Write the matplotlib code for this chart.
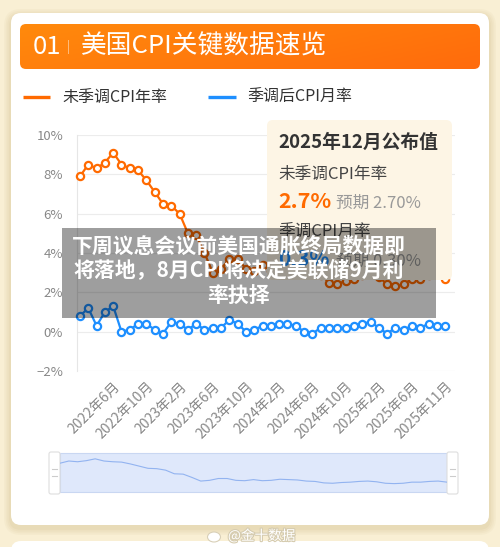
import matplotlib
matplotlib.use('Agg')
import matplotlib.pyplot as plt
from matplotlib.patches import FancyBboxPatch, Rectangle, Ellipse
import matplotlib.patheffects as pe
import numpy as np

plt.rcParams['font.family'] = ['Noto Sans CJK SC', 'DejaVu Sans']
plt.rcParams['axes.unicode_minus'] = True

# ---------------- data ----------------
months = ['2022年2月', '2022年3月', '2022年4月', '2022年5月', '2022年6月', '2022年7月',
          '2022年8月', '2022年9月', '2022年10月', '2022年11月', '2022年12月',
          '2023年1月', '2023年2月', '2023年3月', '2023年4月', '2023年5月', '2023年6月',
          '2023年7月', '2023年8月', '2023年9月', '2023年10月', '2023年11月', '2023年12月',
          '2024年1月', '2024年2月', '2024年3月', '2024年4月', '2024年5月', '2024年6月',
          '2024年7月', '2024年8月', '2024年9月', '2024年10月', '2024年11月', '2024年12月',
          '2025年1月', '2025年2月', '2025年3月', '2025年4月', '2025年5月', '2025年6月',
          '2025年7月', '2025年8月', '2025年9月', '2025年11月']
cpi_yoy_nsa = [7.9, 8.5, 8.3, 8.6, 9.1, 8.5, 8.3, 8.2, 7.7, 7.1, 6.5,
               6.4, 6.0, 5.0, 4.9, 4.0, 3.0, 3.2, 3.7, 3.7, 3.2, 3.1, 3.4,
               3.1, 3.2, 3.5, 3.4, 3.3, 3.0, 2.9, 2.5, 2.4, 2.6, 2.7, 2.9,
               3.0, 2.8, 2.4, 2.3, 2.4, 2.7, 2.7, 2.9, 3.0, 2.7]
cpi_mom_sa = [0.8, 1.2, 0.3, 1.0, 1.3, 0.0, 0.1, 0.4, 0.4, 0.1, -0.1,
              0.5, 0.4, 0.1, 0.4, 0.1, 0.2, 0.2, 0.6, 0.4, 0.0, 0.1, 0.3,
              0.3, 0.4, 0.4, 0.3, 0.0, -0.1, 0.2, 0.2, 0.2, 0.2, 0.3, 0.4,
              0.5, 0.2, -0.1, 0.2, 0.1, 0.3, 0.2, 0.4, 0.3, 0.3]
tick_labels = ['2022年6月', '2022年10月', '2023年2月', '2023年6月', '2023年10月',
               '2024年2月', '2024年6月', '2024年10月', '2025年2月', '2025年6月', '2025年11月']
y_ticks = [-2, 0, 2, 4, 6, 8, 10]
y_tick_labels = ['−2%', '0%', '2%', '4%', '6%', '8%', '10%']
series_names = ['未季调CPI年率', '季调后CPI月率']
title_text = '美国CPI关键数据速览'
overlay_text = '下周议息会议前美国通胀终局数据即\n将落地，8月CPI将决定美联储9月利\n率抉择'

ORANGE = '#ff6a00'
BLUE = '#1e8fff'

W, H = 500, 547
fig = plt.figure(figsize=(W / 100, H / 100), dpi=100)
fig.patch.set_facecolor('#f9efd4')

# background axes in pixel coordinates
bg = fig.add_axes([0, 0, 1, 1], zorder=0)
bg.set_xlim(0, W)
bg.set_ylim(H, 0)
bg.axis('off')

# card shadow
for i, a in enumerate([0.05, 0.05, 0.06, 0.07]):
    g = 7 - i * 1.7
    bg.add_patch(FancyBboxPatch((11 - g, 13 - g + 3), 478 + 2 * g, 512 + 2 * g,
                                boxstyle='round,pad=0,rounding_size=%f' % (10 + g),
                                facecolor='#b09a55', edgecolor='none', alpha=a))
card = FancyBboxPatch((11, 13), 478, 512, boxstyle='round,pad=0,rounding_size=10',
                      facecolor='white', edgecolor='none')
bg.add_patch(card)
bg.add_patch(FancyBboxPatch((11, 541), 478, 40, boxstyle='round,pad=0,rounding_size=10',
                            facecolor='white', edgecolor='none'))

# header bar with gradient
hdr = FancyBboxPatch((20, 24), 460, 45, boxstyle='round,pad=0,rounding_size=6',
                     facecolor='none', edgecolor='none')
bg.add_patch(hdr)
gx = np.linspace(0, 1, 200)
gy = np.linspace(0, 1, 20)
GX, GY = np.meshgrid(gx, gy)
t = 0.7 * GX + 0.3 * (1 - GY)
c0 = np.array([1.0, 0.54, 0.05])
c1 = np.array([1.0, 0.42, 0.05])
img = c0[None, None, :] * (1 - t[..., None]) + c1[None, None, :] * t[..., None]
im = bg.imshow(img, extent=(20, 480, 24, 69), origin='upper', aspect='auto', zorder=1)
im.set_clip_path(hdr)
bg.text(33, 47, '01', color='white', fontsize=18.5, va='center', ha='left', zorder=2,
        weight='medium')
bg.text(68, 47, '|', color='white', alpha=0.6, fontsize=9, va='center', ha='center', zorder=2)
bg.text(81, 47, title_text, color='white', fontsize=18.5, va='center', ha='left', zorder=2,
        weight='medium')

# legend
bg.plot([23, 50], [97, 97], color=ORANGE, lw=2.4, solid_capstyle='butt')
bg.text(62, 97, series_names[0], color='#333333', fontsize=11.5, va='center', ha='left',
        weight='medium')
bg.plot([208, 236], [97, 97], color=BLUE, lw=2.4, solid_capstyle='butt')
bg.text(247, 97, series_names[1], color='#333333', fontsize=11.5, va='center', ha='left',
        weight='medium')

# slider (data zoom)
bg.add_patch(Rectangle((60, 453), 387, 39, facecolor='#dfe8fb', edgecolor='#c9d7f2', lw=0.8))
for hx in (49, 447):
    bg.add_patch(FancyBboxPatch((hx, 452), 11, 42, boxstyle='round,pad=0,rounding_size=2',
                                facecolor='white', edgecolor='#dedede', lw=0.8, zorder=3))
    for yy in (469, 476):
        bg.plot([hx + 3, hx + 8], [yy, yy], color='#cccccc', lw=0.8, zorder=4)

# watermark
bg.add_patch(Ellipse((214, 537), 13, 10, facecolor='white', edgecolor='#d9d0b8', lw=0.8, zorder=5))
bg.text(228, 536, '@金十数据', color='white', fontsize=9.8, va='center', ha='left', zorder=5,
        path_effects=[pe.withStroke(linewidth=1.6, foreground='#d6ccb0')])

# ---------------- main chart ----------------
ax = fig.add_axes([77 / W, 1 - 371 / H, 378 / W, 236 / H], zorder=1)
ax.patch.set_alpha(0)
x = np.arange(len(months))
ax.set_xlim(-0.36, 45.18)
ax.set_ylim(-2, 10)
ax.set_yticks(y_ticks)
ax.set_yticklabels(y_tick_labels)
ax.grid(axis='y', color='#ececec', lw=0.8, zorder=0.5)
ax.set_axisbelow(True)
for s in ['top', 'right', 'bottom']:
    ax.spines[s].set_visible(False)
ax.spines['left'].set_color('#e6e6e6')
ax.spines['left'].set_linewidth(0.8)
ax.tick_params(axis='y', length=0, pad=10, labelsize=9.5, labelcolor='#888888')
tick_pos = [months.index(l) for l in tick_labels]
ax.set_xticks(tick_pos)
ax.set_xticklabels(tick_labels)
ax.tick_params(axis='x', length=0, pad=6, labelsize=10, labelcolor='#888888')
for lab in ax.get_xticklabels():
    lab.set_rotation(45)
    lab.set_ha('right')
    lab.set_va('top')
    lab.set_rotation_mode('anchor')

ax.plot(x, cpi_yoy_nsa, color=ORANGE, lw=1.6, marker='o', ms=5.2, mfc='white',
        mec=ORANGE, mew=1.6, zorder=3, clip_on=False)
ax.plot(x, cpi_mom_sa, color=BLUE, lw=1.6, marker='o', ms=5.2, mfc='white',
        mec=BLUE, mew=1.6, zorder=3, clip_on=False)

# tooltip box (over lines)
ax.add_patch(FancyBboxPatch((267, 120), 185, 160, boxstyle='round,pad=0,rounding_size=6',
                            facecolor='#fdf5e5', edgecolor='none', transform=bg.transData,
                            clip_on=False, zorder=4))
tk = dict(transform=bg.transData, clip_on=False, zorder=4.5, va='center', ha='left')
ax.text(278, 142, '2025年12月公布值', color='#333333', fontsize=13.5, weight='bold', **tk)
ax.text(278, 174, '未季调CPI年率', color='#444444', fontsize=12, **tk)
ax.text(278, 201, '2.7%', color=ORANGE, fontsize=15.5, weight='bold', **tk)
ax.text(336, 203, '预期 2.70%', color='#999999', fontsize=12, **tk)
ax.text(278, 231, '季调CPI月率', color='#444444', fontsize=12, **tk)
ax.text(278, 259, '0.3%', color=BLUE, fontsize=15, weight='bold', **tk)
ax.text(336, 261, '预期 0.30%', color='#999999', fontsize=12, **tk)

# mini chart inside slider
mini = fig.add_axes([60 / W, 1 - 492 / H, 387 / W, 39 / H], zorder=1)
mini.set_xlim(0, len(months) - 1)
mini.set_ylim(0, 10.7)
mini.axis('off')
mini.plot(x, cpi_yoy_nsa, color='#92b3f0', lw=0.8)

# ---------------- overlay ----------------
top = fig.add_axes([0, 0, 1, 1], zorder=5)
top.set_xlim(0, W)
top.set_ylim(H, 0)
top.axis('off')
top.patch.set_alpha(0)
top.add_patch(Rectangle((62, 228), 374, 90, facecolor='black', alpha=0.38, edgecolor='none'))
top.text(239, 271, overlay_text, color='white', fontsize=15, weight='bold', ha='center',
         va='center', multialignment='center', linespacing=1.2)

fig.savefig('out.png', dpi=100)
